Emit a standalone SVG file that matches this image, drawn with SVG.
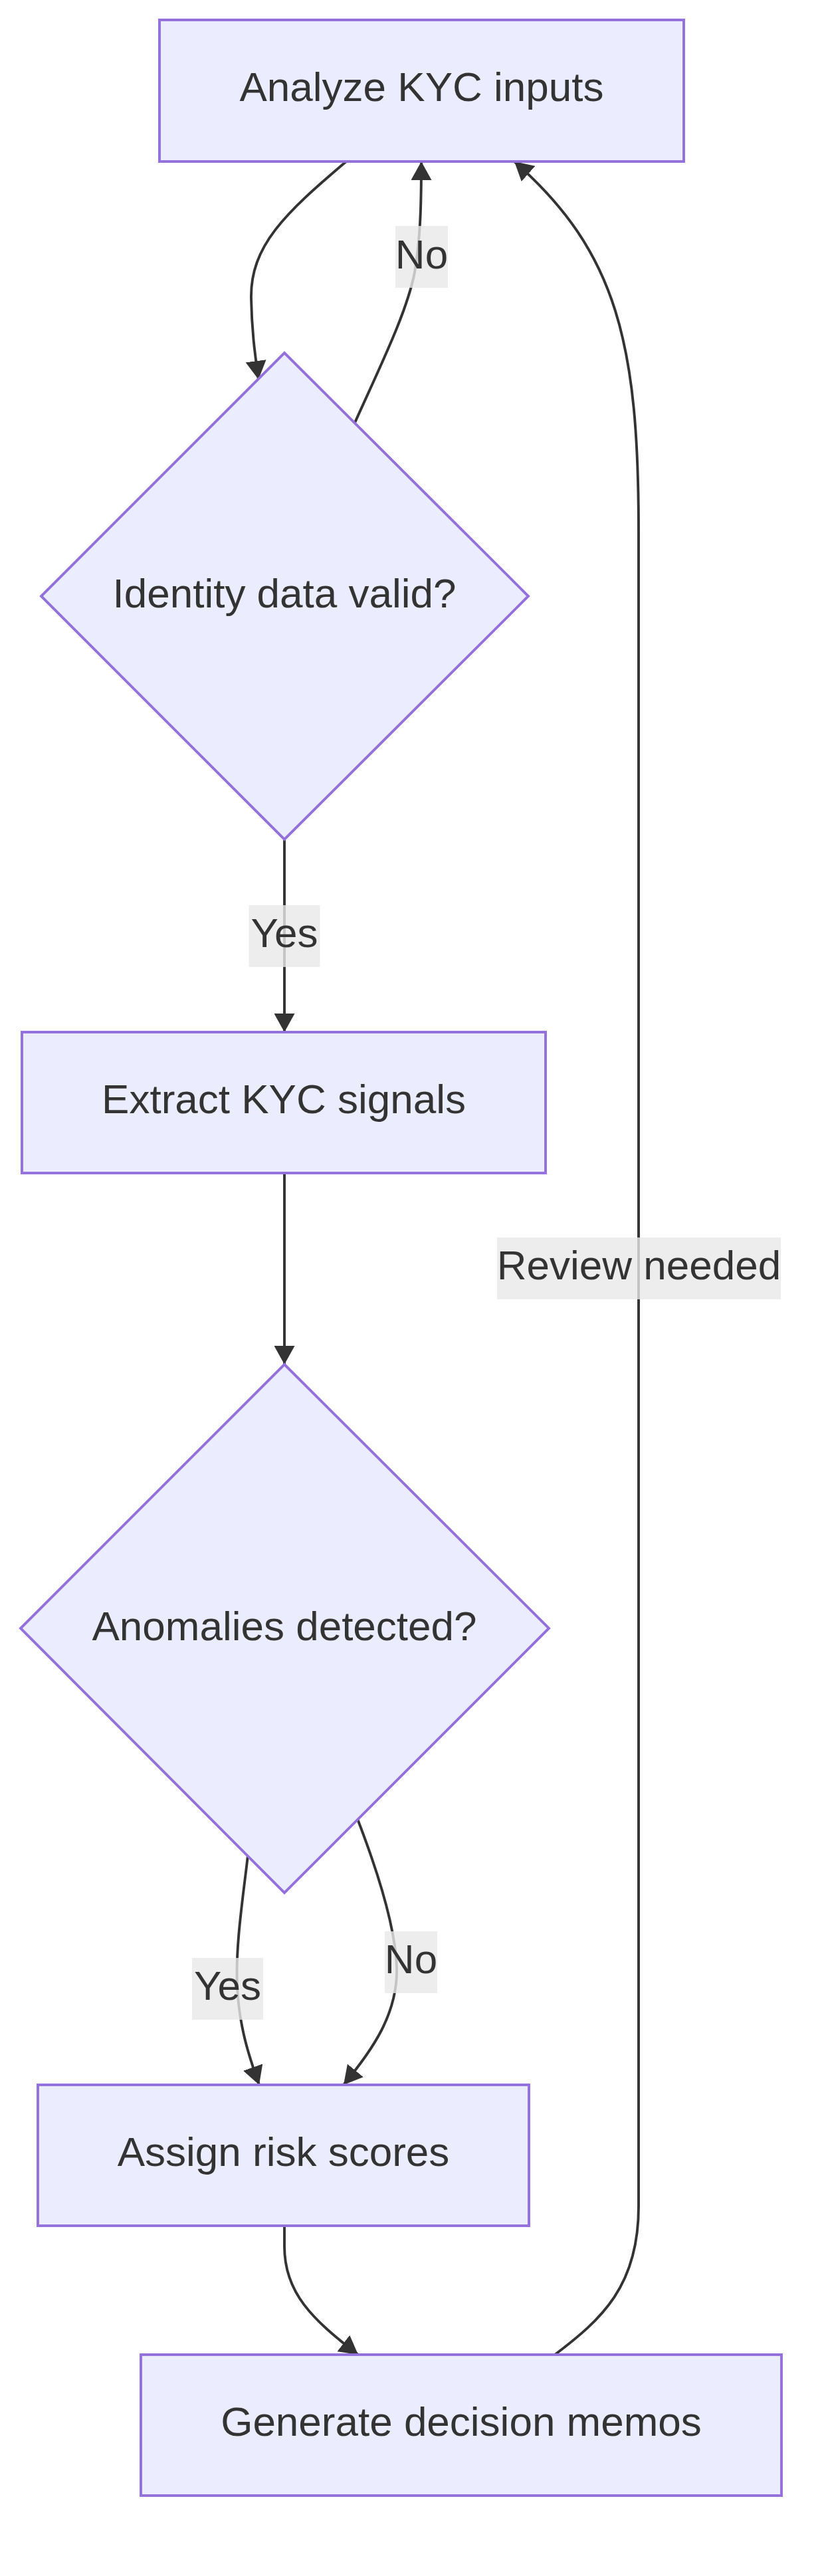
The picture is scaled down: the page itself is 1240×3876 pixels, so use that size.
<svg xmlns="http://www.w3.org/2000/svg" width="1240" height="3876" viewBox="0 0 1240 3876">
<style>
.node{fill:#ECECFF;stroke:#9370DB;stroke-width:3.9}
.edge{fill:none;stroke:#333;stroke-width:3.9}
.t{font-family:"Liberation Sans",Arial,sans-serif;font-size:62px;fill:#333;text-anchor:middle}
.lbl{fill:#E8E8E8;fill-opacity:0.8}
</style>
<defs>
<marker id="arrow" viewBox="0 0 10 10" refX="10" refY="5" markerUnits="userSpaceOnUse" markerWidth="28" markerHeight="31" preserveAspectRatio="none" orient="auto">
<path d="M0,0 L10,5 L0,10 z" fill="#333"/>
</marker>
</defs>
<rect width="1240" height="3876" fill="#fff"/>
<g id="connectors">
<path class="edge" marker-end="url(#arrow)" d="M 521 243 C 430 320, 376 370, 378 450 C 379 500, 384 535, 389 571"/>
<path class="edge" marker-end="url(#arrow)" d="M 534 636 C 575 545, 612 470, 624 410 C 632 360, 634 320, 634 243"/>
<path class="edge" marker-end="url(#arrow)" d="M 428 1263 L 428 1553"/>
<path class="edge" marker-end="url(#arrow)" d="M 428 1765 L 428 2053"/>
<path class="edge" marker-end="url(#arrow)" d="M 373 2792 C 365 2860, 354 2930, 357 2990 C 360 3050, 375 3095, 390 3137"/>
<path class="edge" marker-end="url(#arrow)" d="M 538 2737 C 570 2820, 595 2900, 597 2960 C 599 3030, 560 3085, 517 3137"/>
<path class="edge" marker-end="url(#arrow)" d="M 428 3349 L 428 3380 C 428 3450, 470 3490, 539 3543"/>
<path class="edge" marker-end="url(#arrow)" d="M 835 3543 C 905 3490, 961 3440, 961 3320 L 961 800 C 961 520, 930 380, 774 243"/>
</g>
<g id="edge-labels">
<g id="label-no-1"><rect class="lbl" x="595" y="340" width="79" height="93"/><text class="t" x="634.5" y="403.5">No</text></g>
<g id="label-yes-1"><rect class="lbl" x="374.5" y="1362" width="107" height="93"/><text class="t" x="428" y="1425">Yes</text></g>
<g id="label-review"><rect class="lbl" x="748" y="1862" width="427" height="93"/><text class="t" x="961.5" y="1925">Review needed</text></g>
<g id="label-yes-2"><rect class="lbl" x="289" y="2946" width="107" height="93"/><text class="t" x="342.5" y="3009">Yes</text></g>
<g id="label-no-2"><rect class="lbl" x="579" y="2906" width="79" height="93"/><text class="t" x="618.5" y="2969">No</text></g>
</g>
<g id="node-analyze"><rect class="node" x="240" y="30" width="789" height="213"/><text class="t" x="634.5" y="152">Analyze KYC inputs</text></g>
<g id="node-identity"><polygon class="node" points="428,531 795,897 428,1263 62,897"/><text class="t" x="428" y="914">Identity data valid?</text></g>
<g id="node-extract"><rect class="node" x="33" y="1553" width="788" height="212"/><text class="t" x="427" y="1675">Extract KYC signals</text></g>
<g id="node-anomalies"><polygon class="node" points="428,2053 826,2450 428,2848 31,2450"/><text class="t" x="428" y="2468">Anomalies detected?</text></g>
<g id="node-assign"><rect class="node" x="57" y="3137" width="739" height="212"/><text class="t" x="426.5" y="3259">Assign risk scores</text></g>
<g id="node-generate"><rect class="node" x="212" y="3543" width="964" height="212"/><text class="t" x="694" y="3665">Generate decision memos</text></g>
</svg>
